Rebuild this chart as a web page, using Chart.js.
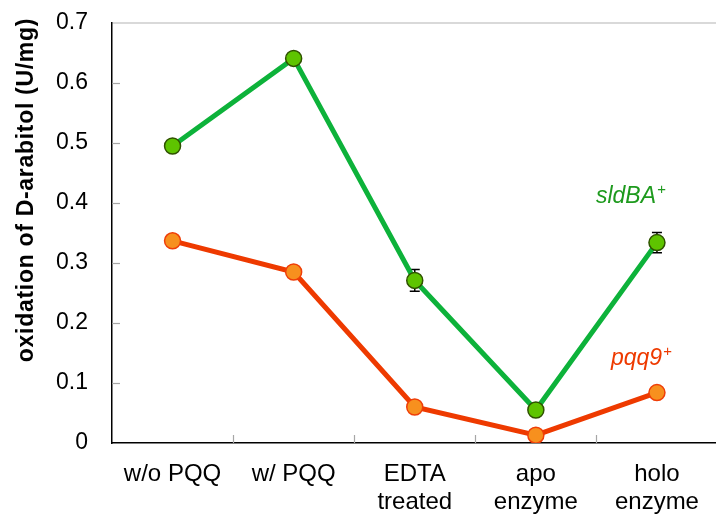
<!DOCTYPE html>
<html>
<head>
<meta charset="utf-8">
<script src="https://cdn.jsdelivr.net/npm/chart.js@4/dist/chart.umd.min.js"></script>
<style>
  html, body { margin: 0; padding: 0; background: #fff; overflow: hidden; }
  #wrap { width: 727px; height: 517px; position: relative; }
</style>
</head>
<body>
<div id="wrap"><canvas id="c" width="727" height="517"></canvas></div>
<script>
// ---- data ----
const categories = [['w/o PQQ'], ['w/ PQQ'], ['EDTA', 'treated'], ['apo', 'enzyme'], ['holo', 'enzyme']];
const sldBA = [0.495, 0.641, 0.271, 0.055, 0.334];
const sldBAErr = [0, 0, 0.018, 0, 0.017];
const pqq9 = [0.337, 0.285, 0.060, 0.013, 0.084];
const pqq9Err = [0, 0, 0, 0, 0];
const yTicks = [0, 0.1, 0.2, 0.3, 0.4, 0.5, 0.6, 0.7];
const yTitle = 'oxidation of D-arabitol (U/mg)';
const seriesLabels = [
  { base: 'sldBA', sup: '+', color: '#1e9a1e', cat: 4, value: 0.40, dx: -61 },
  { base: 'pqq9', sup: '+', color: '#ee3a00', cat: 4, value: 0.13, dx: -46 }
];

const decor = {
  id: 'decor',
  beforeDatasetsDraw(chart) {
    const ctx = chart.ctx, xs = chart.scales.x, ys = chart.scales.y, a = chart.chartArea;
    ctx.save();
    // inward y tick marks
    ctx.strokeStyle = '#a6a6a6'; ctx.lineWidth = 1.2;
    yTicks.forEach(v => {
      if (v === 0 || v === 0.7) return;
      const y = Math.round(ys.getPixelForValue(v)) + 0.5;
      ctx.beginPath(); ctx.moveTo(a.left, y); ctx.lineTo(a.left + 8, y); ctx.stroke();
    });
    // category boundary ticks on x axis
    for (let i = 0; i < categories.length - 1; i++) {
      const x = Math.round((xs.getPixelForValue(i) + xs.getPixelForValue(i + 1)) / 2) + 0.5;
      ctx.beginPath(); ctx.moveTo(x, a.bottom); ctx.lineTo(x, a.bottom - 8); ctx.stroke();
    }
    // error bars
    ctx.strokeStyle = '#000'; ctx.lineWidth = 1.5;
    [[sldBA, sldBAErr], [pqq9, pqq9Err]].forEach(([vals, errs]) => {
      vals.forEach((v, i) => {
        if (!errs[i]) return;
        const x = xs.getPixelForValue(i);
        const y1 = ys.getPixelForValue(v + errs[i]);
        const y2 = ys.getPixelForValue(v - errs[i]);
        ctx.beginPath();
        ctx.moveTo(x, y1); ctx.lineTo(x, y2);
        ctx.moveTo(x - 5, y1); ctx.lineTo(x + 5, y1);
        ctx.moveTo(x - 5, y2); ctx.lineTo(x + 5, y2);
        ctx.stroke();
      });
    });
    ctx.restore();
  },
  afterDraw(chart) {
    const ctx = chart.ctx, xs = chart.scales.x, ys = chart.scales.y;
    ctx.save();
    // y axis title
    ctx.translate(27, 190);
    ctx.rotate(-Math.PI / 2);
    ctx.font = 'bold 23px "Liberation Sans", Arial, sans-serif';
    try { ctx.letterSpacing = '0.7px'; } catch (e) {}
    ctx.fillStyle = '#000';
    ctx.textAlign = 'center';
    ctx.textBaseline = 'middle';
    ctx.fillText(yTitle, 0, 0);
    ctx.restore();
    // series labels
    seriesLabels.forEach(s => {
      ctx.save();
      try { ctx.letterSpacing = '0px'; } catch (e) {}
      const x = xs.getPixelForValue(s.cat) + s.dx;
      const y = ys.getPixelForValue(s.value);
      ctx.fillStyle = s.color;
      ctx.textBaseline = 'alphabetic';
      ctx.textAlign = 'left';
      ctx.font = 'italic 23px "Liberation Sans", Arial, sans-serif';
      ctx.fillText(s.base, x, y);
      const w = ctx.measureText(s.base).width;
      ctx.font = 'italic 15px "Liberation Sans", Arial, sans-serif';
      ctx.fillText(s.sup, x + w + 1, y - 9);
      ctx.restore();
    });
  }
};

new Chart(document.getElementById('c'), {
  type: 'line',
  data: {
    labels: categories,
    datasets: [
      {
        data: sldBA,
        borderColor: '#0db23a',
        borderWidth: 5,
        pointRadius: 8,
        pointBackgroundColor: '#5ec400',
        pointBorderColor: '#2f5200',
        pointBorderWidth: 1.5,
        tension: 0
      },
      {
        data: pqq9,
        borderColor: '#ee3a00',
        borderWidth: 5,
        pointRadius: 8,
        pointBackgroundColor: '#f7901e',
        pointBorderColor: '#ef3e08',
        pointBorderWidth: 1.5,
        tension: 0
      }
    ]
  },
  options: {
    responsive: false,
    maintainAspectRatio: false,
    animation: false,
    events: [],
    layout: { padding: { top: 23, right: 0, left: 0, bottom: 0 } },
    plugins: { legend: { display: false }, tooltip: { enabled: false } },
    scales: {
      x: {
        type: 'category',
        offset: true,
        grid: { display: false, drawTicks: false },
        border: { display: true, color: '#000', width: 1.5 },
        ticks: {
          color: '#000',
          padding: 17,
          maxRotation: 0,
          autoSkip: false,
          font: { family: '"Liberation Sans", Arial, sans-serif', size: 24, lineHeight: 1.17 }
        },
        afterFit(s) { s.height = 74; s.paddingLeft = 0; s.paddingRight = 0; }
      },
      y: {
        min: 0,
        max: 0.7,
        afterBuildTicks(s) { s.ticks = yTicks.map(v => ({ value: v })); },
        grid: {
          drawTicks: false,
          color: c => (c.tick && Math.abs(c.tick.value - 0.7) < 1e-6) ? '#d9d9d9' : 'rgba(0,0,0,0)',
          lineWidth: 2
        },
        border: { display: true, color: '#000', width: 1.5 },
        ticks: {
          color: '#000',
          padding: 24,
          callback: v => String(Math.round(v * 10) / 10),
          font: { family: '"Liberation Sans", Arial, sans-serif', size: 23 }
        },
        afterFit(s) { s.width = 112; s.paddingTop = 0; s.paddingBottom = 0; }
      }
    }
  },
  plugins: [decor]
});
</script>
</body>
</html>
